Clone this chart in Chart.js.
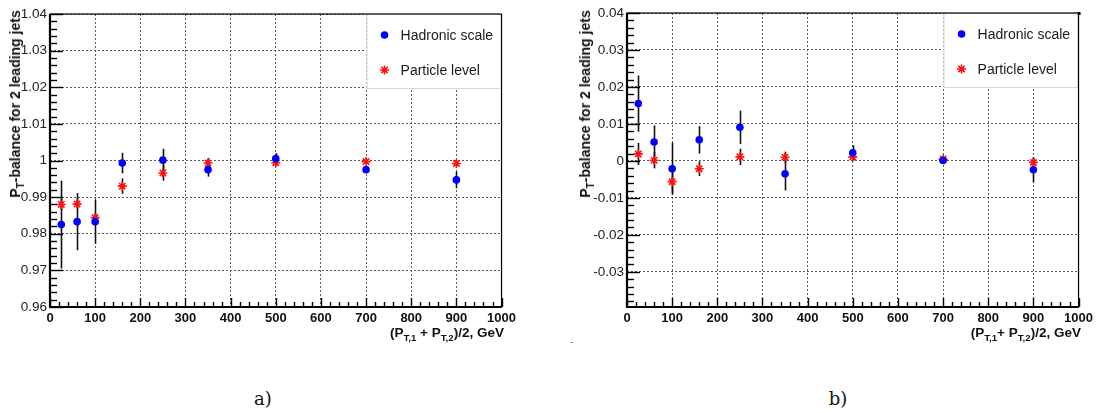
<!DOCTYPE html>
<html><head><meta charset="utf-8">
<script src="https://cdn.jsdelivr.net/npm/chart.js@4.4.1/dist/chart.umd.min.js"></script>
<style>
html,body{margin:0;padding:0;background:#fff;width:1097px;height:413px;overflow:hidden;font-family:"Liberation Sans",Arial,sans-serif;}
.box{position:absolute;}
.ytitle{position:absolute;font-weight:bold;font-size:14px;color:#111;white-space:nowrap;transform:translate(-50%,-50%) rotate(-90deg);}
.xtitle{position:absolute;font-weight:bold;font-size:13.5px;color:#111;white-space:nowrap;transform:translateX(-100%);}
sub{font-size:0.72em;vertical-align:-0.4em;line-height:0;}
.cap{position:absolute;font-family:"DejaVu Serif","Liberation Serif",serif;font-size:18px;color:#111;transform:translateX(-50%);}
</style></head>
<body>
<div class="box" style="left:0;top:0;width:520px;height:340px;"><canvas id="cA" width="520" height="340"></canvas></div>
<div class="box" style="left:560px;top:0;width:537px;height:340px;"><canvas id="cB" width="537" height="340"></canvas></div>
<div class="ytitle" style="left:15px;top:104px;">P<sub>T</sub>-balance for 2 leading jets</div>
<div class="ytitle" style="left:585px;top:104px;">P<sub>T</sub>-balance for 2 leading jets</div>
<div class="xtitle" style="left:504px;top:325px;">(P<sub>T,1</sub> + P<sub>T,2</sub>)/2, GeV</div>
<div class="xtitle" style="left:1081px;top:325px;">(P<sub>T,1</sub>+ P<sub>T,2</sub>)/2, GeV</div>
<div class="cap" style="left:263px;top:388px;">a)</div>
<div class="cap" style="left:838px;top:388px;">b)</div>
<div style="position:absolute;left:570px;top:336px;font-size:10px;color:#777;">-</div>
<script>
// ---- data ----
const ptBins = [25, 60, 100, 160, 250, 350, 500, 700, 900];

const hadronicA    = [0.9825, 0.9833, 0.9833, 0.9993, 1.0001, 0.9975, 1.0005, 0.9975, 0.9947];
const hadronicAErr = [0.0120, 0.0078, 0.0060, 0.0028, 0.0031, 0.0019, 0.0015, 0.0006, 0.0023];
const particleA    = [0.9880, 0.9881, 0.9844, 0.9930, 0.9966, 0.9993, 0.9994, 0.9997, 0.9992];
const particleAErr = [0.0015, 0.0012, 0.0012, 0.0021, 0.0021, 0.0014, 0.0008, 0.0005, 0.0008];

const hadronicB    = [0.0155, 0.0051, -0.0021, 0.0057, 0.0091, -0.0035, 0.0022, 0.0001, -0.0024];
const hadronicBErr = [0.0076, 0.0045, 0.0070, 0.0037, 0.0045, 0.0045, 0.0020, 0.0007, 0.0034];
const particleB    = [0.0019, 0.0002, -0.0056, -0.0021, 0.0011, 0.0010, 0.0011, 0.0005, -0.0004];
const particleBErr = [0.0030, 0.0022, 0.0030, 0.0020, 0.0022, 0.0015, 0.0010, 0.0007, 0.0012];

const xTicks  = [0, 100, 200, 300, 400, 500, 600, 700, 800, 900, 1000];
const yTicksA = [0.96, 0.97, 0.98, 0.99, 1.00, 1.01, 1.02, 1.03, 1.04];
const yTicksB = [-0.03, -0.02, -0.01, 0, 0.01, 0.02, 0.03, 0.04];
const seriesNames = ['Hadronic scale', 'Particle level'];

// ---- styling / plugin ----
const FONT = '"Liberation Sans", Arial, sans-serif';

function minorValues(min, max, step) {
  const out = [];
  const k0 = Math.ceil(min / step - 1e-6), k1 = Math.floor(max / step + 1e-6);
  for (let k = k0; k <= k1; k++) out.push(k * step);
  return out;
}

const rootStyle = {
  id: 'rootStyle',
  beforeDatasetsDraw(chart) {
    const {ctx, chartArea: a, scales: {x, y}} = chart;
    const o = chart.options.plugins.rootStyle;
    ctx.save();
    // legend box
    const lx = a.right - o.legendW, ly = a.top, lw = o.legendW, lh = o.legendH;
    ctx.fillStyle = '#fff';
    ctx.fillRect(lx, ly, lw, lh);
    ctx.strokeStyle = '#d8d8d8'; ctx.lineWidth = 1;
    ctx.strokeRect(lx + 0.5, ly + 0.5, lw - 1, lh - 1);
    chart.data.datasets.forEach((ds, i) => {
      const cy = ly + 21 + i * 35;
      ctx.fillStyle = ds.backgroundColor; ctx.strokeStyle = ds.borderColor;
      if (ds.pointStyle === 'circle') {
        ctx.beginPath(); ctx.arc(lx + 18, cy, ds.pointRadius, 0, 2 * Math.PI); ctx.fill();
      } else {
        ctx.lineWidth = ds.borderWidth;
        Chart.helpers.drawPoint(ctx, {pointStyle: ds.pointStyle, radius: ds.pointRadius, borderWidth: ds.borderWidth, rotation: 0}, lx + 18, cy);
      }
      ctx.fillStyle = '#1a1a1a';
      ctx.font = '14px ' + FONT;
      ctx.textBaseline = 'middle';
      ctx.fillText(ds.label, lx + 34, cy + 1);
    });
    // error bars
    ctx.strokeStyle = '#111'; ctx.lineWidth = 1.6;
    chart.data.datasets.forEach(ds => {
      ds.data.forEach(p => {
        const px = Math.round(x.getPixelForValue(p.x)) + 0.5;
        ctx.beginPath();
        ctx.moveTo(px, y.getPixelForValue(p.y + p.e));
        ctx.lineTo(px, y.getPixelForValue(p.y - p.e));
        ctx.stroke();
      });
    });
    ctx.restore();
  },
  afterDraw(chart) {
    const {ctx, chartArea: a, scales: {x, y}} = chart;
    const o = chart.options.plugins.rootStyle;
    ctx.save();
    ctx.strokeStyle = '#000';
    // frame
    ctx.lineWidth = 1.2;
    ctx.strokeRect(a.left, a.top, a.right - a.left, a.bottom - a.top);
    ctx.lineWidth = 2.2;
    ctx.beginPath();
    ctx.moveTo(a.left, a.top); ctx.lineTo(a.left, a.bottom); ctx.lineTo(a.right, a.bottom);
    ctx.stroke();
    // inward ticks
    ctx.lineWidth = 1.4;
    const xMaj = 9, xMin = 5, yMaj = 13, yMin = 7;
    minorValues(x.min, x.max, 20).forEach(v => {
      const px = Math.round(x.getPixelForValue(v)) + 0.5;
      const len = (Math.round(v) % 100 === 0) ? xMaj : xMin;
      ctx.beginPath(); ctx.moveTo(px, a.bottom); ctx.lineTo(px, a.bottom - len); ctx.stroke();
    });
    minorValues(y.min, y.max, 0.002).forEach(v => {
      const py = Math.round(y.getPixelForValue(v)) + 0.5;
      const isMaj = Math.abs(Math.round(v * 100) - v * 100) < 1e-6;
      const len = isMaj ? yMaj : yMin;
      ctx.beginPath(); ctx.moveTo(a.left, py); ctx.lineTo(a.left + len, py); ctx.stroke();
    });
    if (o.cornerMark) { ctx.fillStyle = '#000'; ctx.fillRect(a.right - 1, a.top - 1, 3, 3); }
    ctx.restore();
  }
};

function fmt(v) { return String(Math.round(v * 100) / 100); }

function makeChart(id, had, hadErr, part, partErr, yTicks, ymin, ymax, yAxisW, topPad, rightPad, corner) {
  const hadData = ptBins.map((x, i) => ({x, y: had[i], e: hadErr[i]}));
  const partData = ptBins.map((x, i) => ({x, y: part[i], e: partErr[i]}));
  return new Chart(document.getElementById(id), {
    type: 'scatter',
    data: {
      datasets: [
        {label: seriesNames[0], data: hadData, pointStyle: 'circle', pointRadius: 3.8, pointHoverRadius: 3.8,
         backgroundColor: '#0000ff', borderColor: '#0000ff', borderWidth: 0},
        {label: seriesNames[1], data: partData, pointStyle: 'star', pointRadius: 4.5, pointHoverRadius: 4.5,
         backgroundColor: '#ff0000', borderColor: '#ff1010', borderWidth: 1.6}
      ]
    },
    options: {
      responsive: false, animation: false, devicePixelRatio: 1,
      layout: {padding: {left: 0, top: topPad, right: rightPad, bottom: 0}},
      plugins: {legend: {display: false}, tooltip: {enabled: false},
        rootStyle: {legendW: 135, legendH: 75, cornerMark: corner}},
      scales: {
        x: {
          type: 'linear', min: 0, max: 1000,
          afterBuildTicks: s => { s.ticks = xTicks.map(v => ({value: v})); },
          afterFit: s => { s.height = 340 - 307; },
          ticks: {font: {family: FONT, size: 13, weight: 'bold'}, color: '#111', padding: 4,
                  maxRotation: 0, autoSkip: false, callback: v => String(v)},
          grid: {color: '#5a5a5a', lineWidth: 1, drawTicks: false},
          border: {display: false, dash: [2, 2]}
        },
        y: {
          type: 'linear', min: ymin, max: ymax,
          afterBuildTicks: s => { s.ticks = yTicks.map(v => ({value: v})); },
          afterFit: s => { s.width = yAxisW; },
          ticks: {font: {family: FONT, size: 13.5}, color: '#222', padding: 3, autoSkip: false, callback: v => fmt(v)},
          grid: {color: '#5a5a5a', lineWidth: 1, drawTicks: false},
          border: {display: false, dash: [2, 2]}
        }
      }
    },
    plugins: [rootStyle]
  });
}

makeChart('cA', hadronicA, hadronicAErr, particleA, particleAErr, yTicksA, 0.96, 1.04, 50, 14, 16, false);
makeChart('cB', hadronicB, hadronicBErr, particleB, particleBErr, yTicksB, -0.0395, 0.04, 67, 13, 16, true);
</script>
</body></html>
